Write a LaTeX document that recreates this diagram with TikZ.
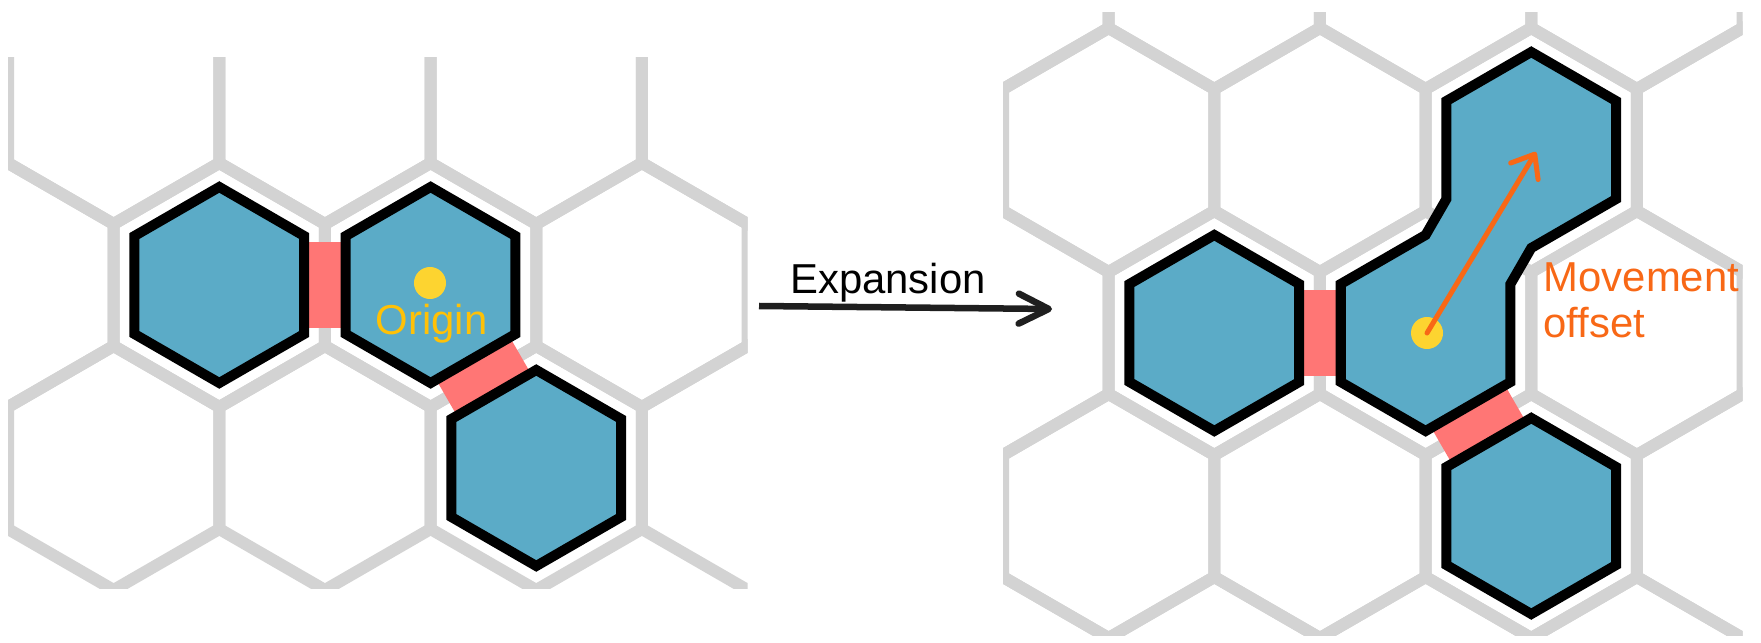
\documentclass[tikz,border=0pt]{standalone}
\usepackage{fontspec}
\setmainfont{Liberation Sans}
\usepackage{xcolor}
\usepackage{tikz}
\usetikzlibrary{arrows.meta,positioning,calc}

\definecolor{gridgray}{RGB}{211,211,211}
\definecolor{unitblue}{RGB}{91,171,199}
\definecolor{bridgered}{RGB}{255,118,117}
\definecolor{dotyellow}{RGB}{253,212,48}
\definecolor{origintext}{RGB}{255,193,7}
\definecolor{moveorange}{RGB}{248,104,22}

\begin{document}
\begin{tikzpicture}[
  x=0.01cm, y=0.01cm,
  cellline/.style={draw=gridgray, line width=0.12cm},
  occupied/.style={draw=black, fill=unitblue, line width=0.10cm},
  bridge/.style={draw=bridgered, line width=0.85cm},
  hexa/.style={insert path={+(90:#1) -- +(150:#1) -- +(210:#1) -- +(270:#1) -- +(330:#1) -- +(30:#1) -- cycle}},
  dot/.style={circle, fill=dotyellow, inner sep=0pt, minimum size=0.32cm},
  lbl/.style={font=\fontsize{11.9}{13.1}\selectfont, inner sep=0pt},
  expand/.style={draw=black!88, line width=0.065cm, -{Straight Barb[length=0.3cm, width=0.3cm, round]}},
  move/.style={draw=moveorange, line width=0.05cm, line cap=round, -{Straight Barb[length=0.2cm, width=0.32cm, round]}},
]
\useasboundingbox (0,0) rectangle (1761,-643);

% Before expansion (left)
\begin{scope}
  \clip (8,-58) rectangle (747.5,-588);
  \foreach \x in {-97.65,113.65,324.95,536.25,747.55} {
    \draw[cellline] (\x,-102) [hexa=122];
    \draw[cellline] (\x,-468) [hexa=122];
  }
  \foreach \x in {8,219.3,430.6,641.9}
    \draw[cellline] (\x,-285) [hexa=122];
  \coordinate (L1) at (219.3,-285);
  \coordinate (L2) at (430.6,-285);
  \coordinate (L3) at (536.25,-468);
  \draw[bridge] (L1) -- (L2);
  \draw[bridge] (L2) -- (L3);
  \draw[occupied] (L1) [hexa=98];
  \draw[occupied] (L2) [hexa=98];
  \draw[occupied] (L3) [hexa=98];
\end{scope}
\node[dot] (originDot) at (430,-283) {};
\node[lbl, text=origintext, anchor=base] (originLbl) at (431.5,-335) {Origin};

% Expansion arrow
\coordinate (expStart) at (759,-306);
\coordinate (expEnd) at (1052,-309);
\draw[expand] (expStart) -- (expEnd);
\node[lbl, anchor=base] (expLbl) at (888,-294) {Expansion};

% After expansion (right)
\begin{scope}
  \clip (1003,-13) rectangle (1742.5,-635);
  \foreach \x in {1003,1214.3,1425.6,1636.9} {
    \draw[cellline] (\x,33) [hexa=122];
    \draw[cellline] (\x,-333) [hexa=122];
    \draw[cellline] (\x,-699) [hexa=122];
  }
  \foreach \x in {1108.65,1319.95,1531.25,1742.55} {
    \draw[cellline] (\x,-150) [hexa=122];
    \draw[cellline] (\x,-516) [hexa=122];
  }
  \coordinate (R1) at (1214.3,-333);
  \coordinate (B) at (1425.6,-333);
  \coordinate (A) at (1531.25,-150);
  \coordinate (R3) at (1531.25,-516);
  \draw[bridge] (R1) -- (B);
  \draw[bridge] (B) -- (R3);
  \draw[occupied] (R1) [hexa=98];
  \draw[occupied] (R3) [hexa=98];
  % moved unit spans two cells
  \draw[occupied] ($(A)+(90:98)$) -- ($(A)+(30:98)$) -- ($(A)+(330:98)$) -- ($(A)+(270:98)$)
    -- ($(B)+(30:98)$) -- ($(B)+(330:98)$) -- ($(B)+(270:98)$) -- ($(B)+(210:98)$)
    -- ($(B)+(150:98)$) -- ($(B)+(90:98)$) -- ($(A)+(210:98)$) -- ($(A)+(150:98)$) -- cycle;
\end{scope}
\node[dot] (startDot) at (1427,-333) {};
\coordinate (moveEnd) at (1536,-152);
\draw[move] (startDot.center) -- (moveEnd);
\node[lbl, text=moveorange, anchor=north west, align=left] (moveLbl) at (1543,-262) {Movement\\offset};
\end{tikzpicture}
\end{document}
